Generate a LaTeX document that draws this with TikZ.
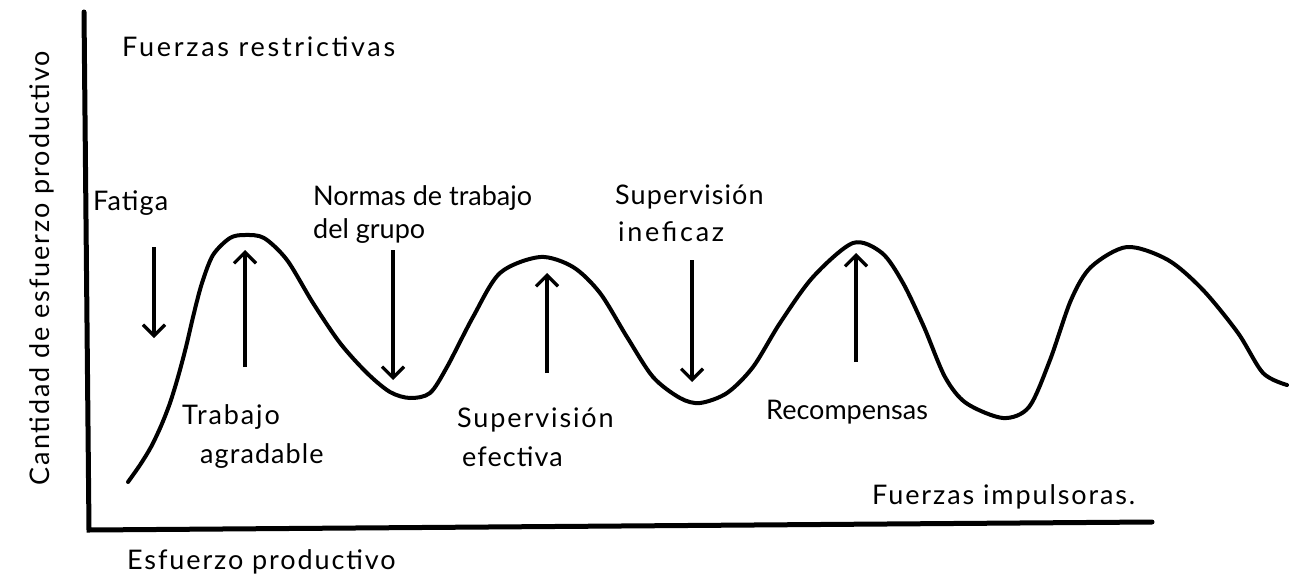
\documentclass[tikz,border=0pt]{standalone}
\usepackage{fontspec}
\setmainfont{Lato}
\newfontfamily\lsA{Lato}[LetterSpace=4]
\newfontfamily\lsB{Lato}[LetterSpace=7]
\newfontfamily\lsC{Lato}[LetterSpace=10]
\usetikzlibrary{arrows.meta}
\tikzset{
  lab/.style={font=\fontsize{27}{30}\selectfont, inner sep=0pt, anchor=west, text=black},
  axisline/.style={line width=5pt, line cap=round},
  curveline/.style={line width=4pt, line cap=round, line join=round},
  force/.style={line width=3.2pt, -{Straight Barb[length=11pt,width=22pt,line width=3.2pt]}}
}
\begin{document}
\begin{tikzpicture}[x=1pt,y=-1pt]
\useasboundingbox (0,0) rectangle (1297,583);
% axes
\coordinate (ytop) at (84,12);
\coordinate (origin) at (89,530);
\coordinate (xend) at (1152,522);
\draw[axisline] (ytop) -- (origin) -- (xend);
% axis labels
\node[lab, anchor=center, rotate=90] (ylab) at (42,268) {\lsB Cantidad de esfuerzo productivo};
\node[lab] (top) at (122,47) {\lsC Fuerzas restrictivas};
\node[lab] (xlab) at (127,562) {\lsB Esfuerzo productivo};
\node[lab] (imp) at (872,497) {\lsB Fuerzas impulsoras.};
% curve
\draw[curveline] plot[smooth, tension=0.5] coordinates {
(128,482) (140,465) (151,447) (161,426) (170,403) (178,377) (186,347) (194,313) (202,283) (213,255) (230,238) (245,235) (264,238)
(287,260) (313,303) (340,343) (367,373) (390,392) (410,398) (430,393) (447,367)
(473,317) (500,273) (540,257) (573,267) (600,293) (627,337) (653,377) (680,398)
(700,403) (727,393) (753,367) (780,323) (813,277) (853,243) (882,253) (903,283)
(924,327) (945,377) (966,403) (1003,418) (1029,407) (1050,360) (1071,300) (1091,267)
(1127,247) (1168,260) (1203,290) (1238,333) (1263,373) (1287,385)};
% labels
\node[lab] (fat) at (93,203) {\lsA Fatiga};
\node[lab] (norm1) at (313,198) {Normas de trabajo};
\node[lab] (norm2) at (313,231) {del grupo};
\node[lab] (sin1) at (615,197) {\lsA Supervisión};
\node[lab] (sin2) at (618,232) {\lsC ineficaz};
\node[lab] (tra1) at (182,417) {\lsB Trabajo};
\node[lab] (tra2) at (200,456) {\lsA agradable};
\node[lab] (sef1) at (457,420) {\lsB Supervisión};
\node[lab] (sef2) at (462,457) {\lsA efectiva};
\node[lab] (rec) at (766,412) {Recompensas};
% force arrows
\coordinate (fatA) at (154,247); \coordinate (fatB) at (154,338);
\coordinate (traA) at (245,367); \coordinate (traB) at (245,250);
\coordinate (norA) at (393,250); \coordinate (norB) at (393,380);
\coordinate (sefA) at (547,373); \coordinate (sefB) at (547,273);
\coordinate (sinA) at (692,260); \coordinate (sinB) at (692,382);
\coordinate (recA) at (856,362); \coordinate (recB) at (856,253);
\draw[force] (fatA) -- (fatB);
\draw[force] (traA) -- (traB);
\draw[force] (norA) -- (norB);
\draw[force] (sefA) -- (sefB);
\draw[force] (sinA) -- (sinB);
\draw[force] (recA) -- (recB);
\end{tikzpicture}
\end{document}
